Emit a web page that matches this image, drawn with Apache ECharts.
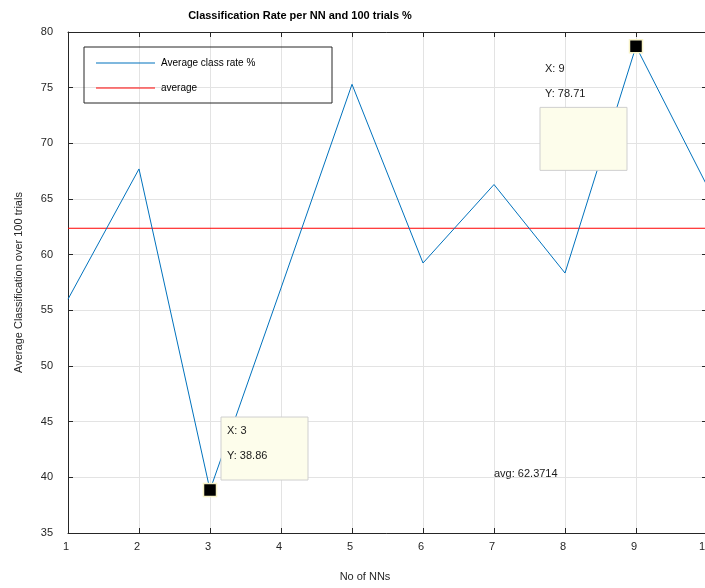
<!DOCTYPE html>
<html><head><meta charset="utf-8">
<script src="https://cdn.jsdelivr.net/npm/echarts@6/dist/echarts.min.js"></script>
<style>html,body{margin:0;padding:0;background:#fff}#c{width:705px;height:588px}</style>
</head><body><div id="c"></div>
<script>
// ---- data ----
const nnCounts = [1, 2, 3, 4, 5, 6, 7, 8, 9, 10];
const classRates = [56.0, 67.7, 38.86, 57.0, 75.3, 59.25, 66.3, 58.35, 78.71, 66.2];
const averageValue = 62.3714;
const tipXs = [3, 9];
const tipYs = [38.86, 78.71];
const yMin = 35, yMax = 80, yStep = 5;
const xMin = 1, xMax = 10, xStep = 1;
const titleText = 'Classification Rate per NN and 100 trials %';
const xName = 'No of NNs';
const yName = 'Average Classification over 100 trials';
const seriesNames = ['Average class rate %', 'average'];
const avgLabelAt = [7, 40.3];

const FONT = '"Liberation Sans", Arial, Helvetica, sans-serif';
const chart = echarts.init(document.getElementById('c'), null, {renderer: 'canvas'});

const mainData = nnCounts.map((x, i) => [x, classRates[i]]);
const avgData = [[xMin, averageValue], [xMax, averageValue]];
const tipData = tipXs.map((x, i) => [x, tipYs[i]]);

const axisCommon = {
  axisLine: {show: true, onZero: false, lineStyle: {color: '#262626', width: 1}},
  axisTick: {show: true, inside: true, length: 5, lineStyle: {color: '#262626'}},
  splitLine: {show: false}
};

chart.setOption({
  animation: false,
  backgroundColor: '#fff',
  title: {
    text: titleText, left: 295, top: 5, textAlign: 'center',
    textStyle: {fontFamily: FONT, fontSize: 11, fontWeight: 'bold', color: '#000'}
  },
  grid: {left: 68, top: 32, width: 639, height: 501, containLabel: false, outerBoundsMode: 'none'},
  legend: {
    data: seriesNames, orient: 'vertical', left: 96, top: 58,
    icon: 'rect', itemWidth: 59, itemHeight: 1.2, itemGap: 15,
    textStyle: {fontFamily: FONT, fontSize: 10, color: '#000', padding: [0, 0, 0, 1]},
    padding: 0
  },
  xAxis: [
    Object.assign({}, axisCommon, {
      type: 'value', min: xMin, max: xMax, interval: xStep, position: 'bottom',
      axisLabel: {fontFamily: FONT, fontSize: 11, color: '#262626', margin: 8, padding: [0, 4, 0, 0]},
      splitLine: {show: true, lineStyle: {color: '#e3e3e3', width: 1}}
    }),
    Object.assign({}, axisCommon, {
      type: 'value', min: xMin, max: xMax, interval: xStep, position: 'top',
      axisLabel: {show: false}
    })
  ],
  yAxis: [
    Object.assign({}, axisCommon, {
      type: 'value', min: yMin, max: yMax, interval: yStep, position: 'left',
      axisLabel: {fontFamily: FONT, fontSize: 11, color: '#262626', margin: 15},
      splitLine: {show: true, lineStyle: {color: '#e3e3e3', width: 1}},
      name: yName, nameLocation: 'middle', nameGap: 44,
      nameTextStyle: {fontFamily: FONT, fontSize: 11, color: '#262626'}
    }),
    Object.assign({}, axisCommon, {
      type: 'value', min: yMin, max: yMax, interval: yStep, position: 'right',
      axisLabel: {show: false}
    })
  ],
  series: [
    {
      name: seriesNames[0], type: 'line', data: mainData, symbol: 'none',
      lineStyle: {color: '#0072BD', width: 1}, itemStyle: {color: '#0072BD'}, z: 3
    },
    {
      name: seriesNames[1], type: 'line', data: avgData, symbol: 'none',
      lineStyle: {color: '#FF0000', width: 1}, itemStyle: {color: '#FF0000'}, z: 2
    },
    {
      name: 'tips', type: 'scatter', data: tipData, symbol: 'rect', symbolSize: 13,
      itemStyle: {color: '#000', opacity: 1, borderColor: '#f8f3c8', borderWidth: 1.5}, z: 5,
      silent: true
    }
  ]
});

// annotation overlays placed via the chart's own scales
const toPx = (p) => chart.convertToPixel({gridIndex: 0}, p);
const graphics = [];
// legend box
graphics.push({type: 'rect', shape: {x: 84, y: 47, width: 248, height: 56},
  style: {fill: 'rgba(255,255,255,0)', stroke: '#262626', lineWidth: 1}, z: 20});

const tipStyle = {fontFamily: FONT, fontSize: 11, fill: '#1a1a1a'};
function datatip(pt, boxOff, textOff) {
  const p = toPx(pt);
  graphics.push({type: 'rect', shape: {x: p[0] + boxOff[0], y: p[1] + boxOff[1], width: 87, height: 63},
    style: {fill: '#fdfdeb', stroke: '#cfcfcf', lineWidth: 1}, z: 10});
  graphics.push({type: 'text', x: p[0] + textOff[0], y: p[1] + textOff[1],
    style: Object.assign({text: 'X: ' + pt[0], textVerticalAlign: 'middle'}, tipStyle), z: 11});
  graphics.push({type: 'text', x: p[0] + textOff[0], y: p[1] + textOff[1] + 25,
    style: Object.assign({text: 'Y: ' + pt[1].toFixed(2), textVerticalAlign: 'middle'}, tipStyle), z: 11});
}
datatip(tipData[0], [11, -73], [17, -59]);
datatip(tipData[1], [-96, 61], [-91, 23]);

const a = toPx(avgLabelAt);
graphics.push({type: 'text', x: a[0], y: a[1],
  style: Object.assign({text: 'avg: ' + averageValue, textVerticalAlign: 'middle'}, tipStyle), z: 11});

// x-axis name
graphics.push({type: 'text', x: 365, y: 577,
  style: {text: xName, fontFamily: FONT, fontSize: 11, fill: '#262626', textAlign: 'center', textVerticalAlign: 'middle'}});

chart.setOption({graphic: graphics});
</script></body></html>
